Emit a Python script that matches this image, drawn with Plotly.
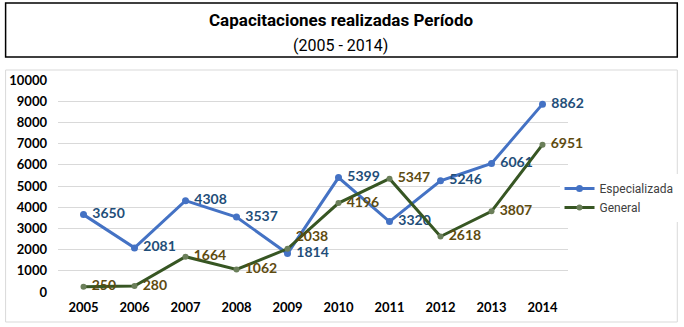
import plotly.graph_objects as go

years = ['2005', '2006', '2007', '2008', '2009', '2010', '2011', '2012', '2013', '2014']
especializada = [3650, 2081, 4308, 3537, 1814, 5399, 3320, 5246, 6061, 8862]
general = [250, 280, 1664, 1062, 2038, 4196, 5347, 2618, 3807, 6951]
y_ticks = [0, 1000, 2000, 3000, 4000, 5000, 6000, 7000, 8000, 9000, 10000]

W, H = 684, 327
L, R, T, B = 57.5, 115.5, 80, 35
pw, ph = W - L - R, H - T - B


def px(x):
    return (x - L) / pw


def py(y):
    return (H - B - y) / ph


fig = go.Figure()

fig.add_trace(go.Scatter(
    x=years, y=especializada, name='Especializada',
    mode='lines+markers+text',
    line=dict(color='#4472C4', width=3),
    marker=dict(size=7, color='#4472C4'),
    text=['\u00a0' + str(v) for v in especializada],
    textposition='middle right',
    textfont=dict(family='Lato', size=14, color='#1F4E79', weight='bold'),
    cliponaxis=False,
))

gen_pos = ['middle right'] * len(general)
gen_pos[4] = 'top right'
fig.add_trace(go.Scatter(
    x=years, y=general, name='General',
    mode='lines+markers+text',
    line=dict(color='#375623', width=3),
    marker=dict(size=6, color='#6B7F5A'),
    text=['\u00a0' + str(v) for v in general],
    textposition=gen_pos,
    textfont=dict(family='Lato', size=14, color='#5E4B10', weight='bold'),
    cliponaxis=False,
))

# title box and outer chart border
fig.add_shape(type='rect', xref='paper', yref='paper',
              x0=px(5), x1=px(678), y0=py(57), y1=py(3),
              line=dict(color='black', width=1.5))
fig.add_shape(type='rect', xref='paper', yref='paper',
              x0=px(5), x1=px(678), y0=py(322), y1=py(70),
              line=dict(color='#D9D9D9', width=1))

fig.add_annotation(xref='paper', yref='paper', x=px(341), y=py(20), yanchor='middle',
                   text='<b>Capacitaciones realizadas Período</b>', showarrow=False,
                   font=dict(family='Roboto', size=17, color='black'))
fig.add_annotation(xref='paper', yref='paper', x=px(341), y=py(45), yanchor='middle',
                   text='(2005 - 2014)', showarrow=False,
                   font=dict(family='Roboto', size=16, color='black'))

fig.update_layout(
    width=W, height=H,
    margin=dict(l=L, r=R, t=T, b=B, autoexpand=False),
    paper_bgcolor='white', plot_bgcolor='white',
    showlegend=True,
    legend=dict(x=px(560), y=py(174), xanchor='left', yanchor='top',
                font=dict(family='Roboto', size=12, color='#404040'),
                itemwidth=30, tracegroupgap=0),
    font=dict(family='Lato'),
)
fig.update_xaxes(type='category', range=[-0.5, 9.5], showgrid=False, showline=False,
                 ticks='', ticklabelstandoff=6, automargin=False,
                 tickfont=dict(family='Lato', size=13, color='black', weight='bold'))
fig.update_yaxes(range=[0, 10000], tickvals=y_ticks, tickformat='d', showgrid=True,
                 gridcolor='#D9D9D9', zeroline=False, showline=False, ticks='',
                 ticklabelstandoff=10, automargin=False,
                 tickfont=dict(family='Lato', size=13, color='black', weight='bold'))

fig.write_html('out.html', config={'displayModeBar': False},
               post_script="document.body.style.margin='0';")
